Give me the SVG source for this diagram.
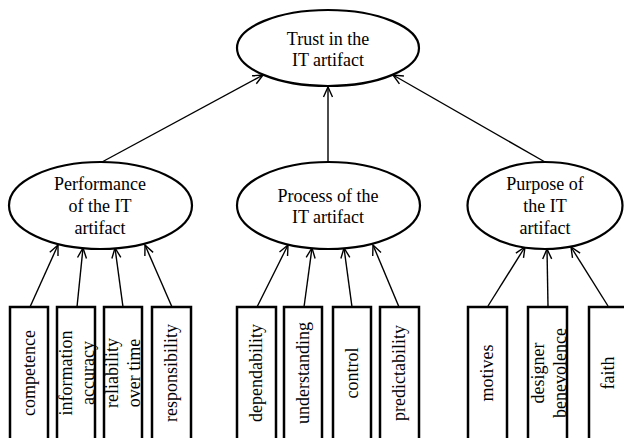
<svg xmlns="http://www.w3.org/2000/svg" width="624" height="438" viewBox="0 0 624 438">
<style>
.el{fill:#fff;stroke:#000;stroke-width:2.2}
.bx{fill:#fff;stroke:#000;stroke-width:2.5}
text{font-family:'Liberation Serif','Times New Roman',Times,serif;font-size:18px;fill:#000;text-anchor:middle}
.c{stroke:#000;stroke-width:1.4;fill:none;marker-end:url(#ah)}
</style>
<defs>
<marker id="ah" markerUnits="userSpaceOnUse" markerWidth="14" markerHeight="12" viewBox="-12 -6 14 12" refX="0" refY="0" orient="auto">
<path d="M-10,-4.5 L0,0 L-10,4.5" fill="none" stroke="#000" stroke-width="1.4"/>
</marker>
</defs>
<g id="connectors">
<line class="c" x1="102" y1="162" x2="263" y2="75"/>
<line class="c" x1="328" y1="162" x2="328" y2="87"/>
<line class="c" x1="545" y1="162" x2="393" y2="75"/>
<line class="c" x1="30" y1="307" x2="58" y2="245"/>
<line class="c" x1="77" y1="307" x2="83" y2="248"/>
<line class="c" x1="123" y1="307" x2="115" y2="248"/>
<line class="c" x1="172" y1="307" x2="145" y2="245"/>
<line class="c" x1="257" y1="307" x2="288" y2="245"/>
<line class="c" x1="304" y1="307" x2="312" y2="248"/>
<line class="c" x1="352" y1="307" x2="344" y2="248"/>
<line class="c" x1="399" y1="307" x2="373" y2="245"/>
<line class="c" x1="488" y1="306" x2="525" y2="247"/>
<line class="c" x1="548" y1="306" x2="547" y2="249"/>
<line class="c" x1="608" y1="306" x2="571" y2="247"/>
</g>
<g id="trust">
<ellipse class="el" cx="328" cy="48" rx="91" ry="38"/>
<text x="328" y="45" font-family="Liberation Serif, serif">Trust in the</text>
<text x="328" y="66" font-family="Liberation Serif, serif">IT artifact</text>
</g>
<g id="performance">
<ellipse class="el" cx="100.5" cy="205.5" rx="91.5" ry="43.5"/>
<text x="100" y="190">Performance</text>
<text x="100" y="212">of the IT</text>
<text x="100" y="234">artifact</text>
</g>
<g id="process">
<ellipse class="el" cx="328.5" cy="205.5" rx="91.5" ry="43.5"/>
<text x="328" y="202">Process of the</text>
<text x="328" y="223">IT artifact</text>
</g>
<g id="purpose">
<ellipse class="el" cx="545" cy="205.5" rx="77.5" ry="43.5"/>
<text x="545" y="190">Purpose of</text>
<text x="545" y="212">the IT</text>
<text x="545" y="234">artifact</text>
</g>
<g id="competence">
<rect class="bx" x="10" y="307" width="38" height="140"/>
<text transform="translate(35,373) rotate(-90)">competence</text>
</g>
<g id="information-accuracy">
<rect class="bx" x="57" y="307" width="38" height="140"/>
<text transform="translate(72,373) rotate(-90)">information</text>
<text transform="translate(94,373) rotate(-90)">accuracy</text>
</g>
<g id="reliability">
<rect class="bx" x="104" y="307" width="38" height="140"/>
<text transform="translate(118,373) rotate(-90)">reliability</text>
<text transform="translate(140,373) rotate(-90)">over time</text>
</g>
<g id="responsibility">
<rect class="bx" x="152" y="307" width="39" height="140"/>
<text transform="translate(177,373) rotate(-90)">responsibility</text>
</g>
<g id="dependability">
<rect class="bx" x="237" y="307" width="39" height="140"/>
<text transform="translate(262,373) rotate(-90)">dependability</text>
</g>
<g id="understanding">
<rect class="bx" x="284" y="307" width="38" height="140"/>
<text transform="translate(309,373) rotate(-90)">understanding</text>
</g>
<g id="control">
<rect class="bx" x="333" y="307" width="38" height="140"/>
<text transform="translate(358,373) rotate(-90)">control</text>
</g>
<g id="predictability">
<rect class="bx" x="380" y="307" width="39" height="140"/>
<text transform="translate(405,373) rotate(-90)">predictability</text>
</g>
<g id="motives">
<rect class="bx" x="468" y="307" width="39" height="140"/>
<text transform="translate(493,373) rotate(-90)">motives</text>
</g>
<g id="designer-benevolence">
<rect class="bx" x="528" y="307" width="39" height="140"/>
<text transform="translate(544,373) rotate(-90)">designer</text>
<text transform="translate(566,373) rotate(-90)">benevolence</text>
</g>
<g id="faith">
<rect class="bx" x="589" y="307" width="39" height="140"/>
<text transform="translate(614,373) rotate(-90)">faith</text>
</g>
</svg>
